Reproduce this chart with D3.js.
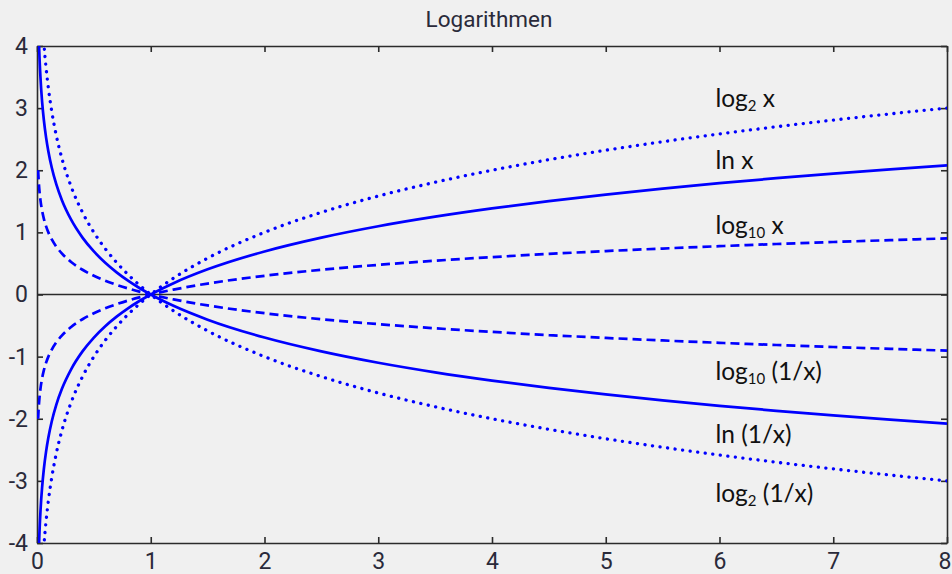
<!DOCTYPE html>
<html>
<head>
<meta charset="utf-8">
<script src="https://cdn.jsdelivr.net/npm/d3@7"></script>
<style>
  html, body { margin: 0; padding: 0; background: #f0f0f0; }
  svg { display: block; }
</style>
</head>
<body>
<svg id="chart" width="952" height="574"></svg>
<script>
// ---- data ----
const title = "Logarithmen";
const xTicks = [0, 1, 2, 3, 4, 5, 6, 7, 8];
const yTicks = [4, 3, 2, 1, 0, -1, -2, -3, -4];

const xs = [0.01, 0.015, 0.02, 0.03, 0.045, 0.06, 0.08, 0.1, 0.13, 0.17, 0.22, 0.3, 0.4, 0.5, 0.6, 0.7, 0.8, 0.9, 1,
            1.2, 1.5, 2, 2.5, 3, 3.5, 4, 4.5, 5, 5.5, 6, 6.5, 7, 7.5, 8];

const lnX    = [-4.605, -4.200, -3.912, -3.507, -3.101, -2.813, -2.526, -2.303, -2.040, -1.772, -1.514, -1.204, -0.916, -0.693, -0.511, -0.357, -0.223, -0.105, 0,
                0.182, 0.405, 0.693, 0.916, 1.099, 1.253, 1.386, 1.504, 1.609, 1.705, 1.792, 1.872, 1.946, 2.015, 2.079];
const log2X  = [-6.644, -6.059, -5.644, -5.059, -4.474, -4.059, -3.644, -3.322, -2.943, -2.556, -2.184, -1.737, -1.322, -1.000, -0.737, -0.515, -0.322, -0.152, 0,
                0.263, 0.585, 1.000, 1.322, 1.585, 1.807, 2.000, 2.170, 2.322, 2.459, 2.585, 2.700, 2.807, 2.907, 3.000];
const log10X = [-2.000, -1.824, -1.699, -1.523, -1.347, -1.222, -1.097, -1.000, -0.886, -0.770, -0.658, -0.523, -0.398, -0.301, -0.222, -0.155, -0.097, -0.046, 0,
                0.079, 0.176, 0.301, 0.398, 0.477, 0.544, 0.602, 0.653, 0.699, 0.740, 0.778, 0.813, 0.845, 0.875, 0.903];
const lnInv    = [4.605, 4.200, 3.912, 3.507, 3.101, 2.813, 2.526, 2.303, 2.040, 1.772, 1.514, 1.204, 0.916, 0.693, 0.511, 0.357, 0.223, 0.105, 0,
                  -0.182, -0.405, -0.693, -0.916, -1.099, -1.253, -1.386, -1.504, -1.609, -1.705, -1.792, -1.872, -1.946, -2.015, -2.079];
const log2Inv  = [6.644, 6.059, 5.644, 5.059, 4.474, 4.059, 3.644, 3.322, 2.943, 2.556, 2.184, 1.737, 1.322, 1.000, 0.737, 0.515, 0.322, 0.152, 0,
                  -0.263, -0.585, -1.000, -1.322, -1.585, -1.807, -2.000, -2.170, -2.322, -2.459, -2.585, -2.700, -2.807, -2.907, -3.000];
const log10Inv = [2.000, 1.824, 1.699, 1.523, 1.347, 1.222, 1.097, 1.000, 0.886, 0.770, 0.658, 0.523, 0.398, 0.301, 0.222, 0.155, 0.097, 0.046, 0,
                  -0.079, -0.176, -0.301, -0.398, -0.477, -0.544, -0.602, -0.653, -0.699, -0.740, -0.778, -0.813, -0.845, -0.875, -0.903];

const seriesNames  = ["log2 x", "ln x", "log10 x", "log10 (1/x)", "ln (1/x)", "log2 (1/x)"];
const seriesValues = [log2X, lnX, log10X, log10Inv, lnInv, log2Inv];
const seriesStyles = ["dotted", "solid", "dashed", "dashed", "solid", "dotted"];
// label parts: [main, subscript, rest]
const labelParts = [["log", "2", " x"], ["ln x", "", ""], ["log", "10", " x"],
                    ["log", "10", " (1/x)"], ["ln (1/x)", "", ""], ["log", "2", " (1/x)"]];
const labelAt = [[6.0, 3.02], [6.0, 2.02], [6.0, 0.98], [6.0, -1.38], [6.0, -2.39], [6.0, -3.34]];

// ---- layout ----
const W = 952, H = 574;
const L = 37, R = 947, T = 46, B = 543;
const axisColor = "#2b2b2b";
const blue = "#0000ff";
const tickFont = "Roboto, 'Liberation Sans', sans-serif";

const svg = d3.select("#chart");
svg.append("rect").attr("width", W).attr("height", H).attr("fill", "#f0f0f0");

const x = d3.scaleLinear().domain([0, 8]).range([L, R]);
const y = d3.scaleLinear().domain([-4, 4]).range([B, T]);

svg.append("clipPath").attr("id", "clip")
  .append("rect").attr("x", L).attr("y", T).attr("width", R - L).attr("height", B - T);

// title
svg.append("text")
  .attr("x", (L + R) / 2 - 3).attr("y", 27)
  .attr("text-anchor", "middle")
  .attr("font-family", tickFont)
  .attr("font-size", 22.5)
  .attr("fill", "#2a2a3a")
  .text(title);

// axes (box with inward ticks)
const tickLen = 6;
const axB = svg.append("g").attr("transform", `translate(0,${B})`)
  .call(d3.axisBottom(x).tickValues(xTicks).tickSizeInner(-tickLen).tickSizeOuter(0).tickFormat(d3.format("d")));
const axT = svg.append("g").attr("transform", `translate(0,${T})`)
  .call(d3.axisTop(x).tickValues(xTicks).tickSizeInner(-tickLen).tickSizeOuter(0).tickFormat(""));
const axL = svg.append("g").attr("transform", `translate(${L},0)`)
  .call(d3.axisLeft(y).tickValues(yTicks).tickSizeInner(-tickLen).tickSizeOuter(0).tickFormat(d => String(d)));
const axR = svg.append("g").attr("transform", `translate(${R},0)`)
  .call(d3.axisRight(y).tickValues(yTicks).tickSizeInner(-tickLen).tickSizeOuter(0).tickFormat(""));

[axB, axT, axL, axR].forEach(g => {
  g.select(".domain").attr("stroke", axisColor).attr("stroke-width", 1.6);
  g.selectAll(".tick line").attr("stroke", axisColor).attr("stroke-width", 1.6);
  g.selectAll("text")
    .attr("font-family", tickFont)
    .attr("font-size", 23)
    .attr("fill", "#2a2a3a");
});
axB.selectAll("text").attr("dy", "0.71em").attr("y", 10);
// keep the last x label inside the window (reference shows it at the edge)
axB.selectAll("text").filter(d => d === 8).attr("text-anchor", "end").attr("x", W - R - 1);
axL.selectAll("text").attr("x", -9);

// zero line
svg.append("line")
  .attr("x1", L).attr("x2", R).attr("y1", y(0)).attr("y2", y(0))
  .attr("stroke", axisColor).attr("stroke-width", 1.6);

// curves
const line = d3.line()
  .x((d, i) => x(xs[i]))
  .y(d => y(d))
  .curve(d3.curveMonotoneX);

const gCurves = svg.append("g").attr("clip-path", "url(#clip)");
seriesValues.forEach((vals, k) => {
  const p = gCurves.append("path")
    .datum(vals)
    .attr("d", line)
    .attr("fill", "none")
    .attr("stroke", blue)
    .attr("stroke-width", 2.7);
  if (seriesStyles[k] === "dotted") {
    p.attr("stroke-dasharray", "0.1 7.5").attr("stroke-linecap", "round").attr("stroke-width", 3.3);
  } else if (seriesStyles[k] === "dashed") {
    p.attr("stroke-dasharray", "9 5");
  }
});

// labels
labelParts.forEach((parts, k) => {
  const t = svg.append("text")
    .attr("x", x(labelAt[k][0]) - 4)
    .attr("y", y(labelAt[k][1]))
    .attr("font-family", "Lato, 'Open Sans', sans-serif")
    .attr("font-size", 24.5)
    .attr("fill", "#111");
  t.append("tspan").text(parts[0]);
  if (parts[1]) {
    t.append("tspan").attr("font-size", 15).attr("dy", 4).text(parts[1]);
    t.append("tspan").attr("dy", -4).text(parts[2]);
  }
});
</script>
</body>
</html>
